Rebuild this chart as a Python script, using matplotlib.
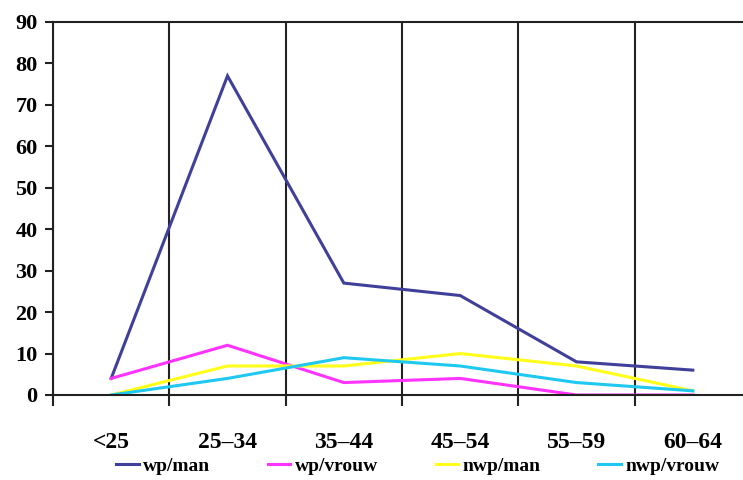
import numpy as np
import matplotlib.pyplot as plt
from matplotlib.ticker import FixedLocator

# age groups and counts per group
categories = ['<25', '25–34', '35–44', '45–54', '55–59', '60–64']
wp_man = [4, 77, 27, 24, 8, 6]
wp_vrouw = [4, 12, 3, 4, 0, 0]
nwp_man = [0, 7, 7, 10, 7, 1]
nwp_vrouw = [0, 4, 9, 7, 3, 1]

series = [
    ('wp/man', wp_man, '#40409a'),
    ('wp/vrouw', wp_vrouw, '#ff33ff'),
    ('nwp/man', nwp_man, '#ffff1a'),
    ('nwp/vrouw', nwp_vrouw, '#1ec8f0'),
]

plt.rcParams['font.family'] = ['Liberation Serif', 'DejaVu Serif']
plt.rcParams['font.weight'] = 'bold'

fig = plt.figure(figsize=(7.43, 4.80), dpi=100)
ax = fig.add_axes([53 / 743, 85 / 480, 698 / 743, 373 / 480])

x = np.arange(len(categories))
for name, vals, col in series:
    ax.plot(x, vals, color=col, lw=2.2, label=name, solid_joinstyle='miter')

ax.set_xlim(-0.5, len(categories) - 0.5)
ax.set_ylim(0, 90)
ax.set_yticks(np.arange(0, 91, 10))

# boundaries between groups carry the vertical lines and tick marks
bounds = np.arange(len(categories) + 1) - 0.5
ax.xaxis.set_major_locator(FixedLocator(bounds))
ax.xaxis.set_major_formatter(plt.NullFormatter())
ax.xaxis.set_minor_locator(FixedLocator(x))
ax.set_xticklabels(categories, minor=True)
ax.tick_params(axis='x', which='major', length=8, width=1.5, color='#222222')
ax.tick_params(axis='x', which='minor', length=0, pad=27, labelsize=17)
ax.tick_params(axis='y', length=6, width=1.5, color='#222222', labelsize=16, pad=5)
ax.grid(axis='x', which='major', color='#222222', lw=1.5)

for s in ['left', 'bottom', 'top']:
    ax.spines[s].set_color('#222222')
    ax.spines[s].set_linewidth(1.5)
ax.spines['right'].set_visible(False)

fig.legend(loc='center', bbox_to_anchor=(0.5625, 14 / 480), ncol=4, frameon=False,
           fontsize=14, handlelength=1.15, handletextpad=0.25, columnspacing=2.95)

plt.savefig('out.png', dpi=100)
plt.close()
